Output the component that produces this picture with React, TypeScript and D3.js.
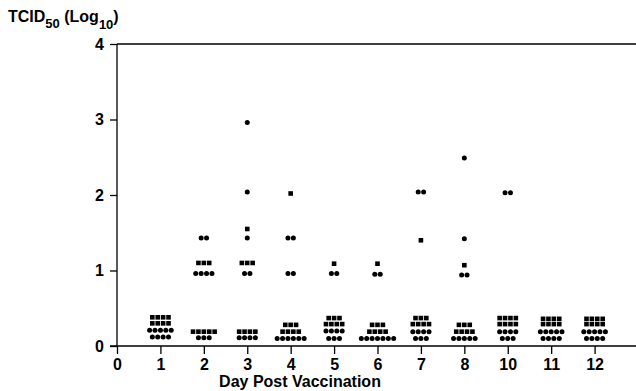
import React, { useEffect, useRef } from 'react';
import * as d3 from 'd3';

// x positions 0..11, day 9 is not on the axis
const tickLabels = ['0', '1', '2', '3', '4', '5', '6', '7', '8', '10', '11', '12'];
const yTicks = [0, 1, 2, 3, 4];

// one entry per day (positions 1..11), values in log10 TCID50
const circleValues: number[][] = [
  [0.21, 0.21, 0.21, 0.21, 0.21, 0.12, 0.12, 0.12, 0.12],
  [1.43, 1.43, 0.96, 0.96, 0.96, 0.96, 0.11, 0.11, 0.11],
  [2.96, 2.04, 1.43, 0.96, 0.96, 0.11, 0.11, 0.11, 0.11],
  [1.43, 1.43, 0.96, 0.96, 0.1, 0.1, 0.1, 0.1, 0.1, 0.1],
  [0.96, 0.96, 0.2, 0.2, 0.2, 0.2, 0.1, 0.1, 0.1],
  [0.95, 0.95, 0.1, 0.1, 0.1, 0.1, 0.1, 0.1, 0.1],
  [2.04, 2.04, 0.19, 0.19, 0.19, 0.19, 0.1, 0.1, 0.1],
  [2.49, 1.42, 0.94, 0.94, 0.1, 0.1, 0.1, 0.1, 0.1],
  [2.03, 2.03, 0.19, 0.19, 0.19, 0.19, 0.1, 0.1, 0.1],
  [0.19, 0.19, 0.19, 0.19, 0.19, 0.1, 0.1, 0.1, 0.1],
  [0.19, 0.19, 0.19, 0.19, 0.19, 0.1, 0.1, 0.1, 0.1],
];

const squareValues: number[][] = [
  [0.38, 0.38, 0.38, 0.38, 0.3, 0.3, 0.3, 0.3],
  [1.1, 1.1, 1.1, 0.19, 0.19, 0.19, 0.19, 0.19],
  [1.55, 1.1, 1.1, 1.1, 0.19, 0.19, 0.19, 0.19],
  [2.02, 0.28, 0.28, 0.28, 0.19, 0.19, 0.19, 0.19],
  [1.09, 0.37, 0.37, 0.37, 0.29, 0.29, 0.29, 0.29],
  [1.09, 0.28, 0.28, 0.28, 0.19, 0.19, 0.19, 0.19],
  [1.4, 0.37, 0.37, 0.37, 0.29, 0.29, 0.29, 0.29],
  [1.07, 0.28, 0.28, 0.28, 0.19, 0.19, 0.19, 0.19],
  [0.37, 0.37, 0.37, 0.37, 0.29, 0.29, 0.29, 0.29],
  [0.36, 0.36, 0.36, 0.36, 0.29, 0.29, 0.29, 0.29],
  [0.36, 0.36, 0.36, 0.36, 0.29, 0.29, 0.29, 0.29],
];

const W = 636;
const H = 391;
const font = '"Liberation Sans", Arial, sans-serif';

// group equal values into rows and spread them sideways
const dodge = (values: number[], pos: number, gap: number) => {
  const rows = d3.group(values, v => v);
  const out: { pos: number; v: number; off: number }[] = [];
  rows.forEach((vs, v) => {
    vs.forEach((_, i) => out.push({ pos, v, off: (i - (vs.length - 1) / 2) * gap }));
  });
  return out;
};

function Chart() {
  const ref = useRef<SVGSVGElement>(null);

  useEffect(() => {
    const svg = d3.select(ref.current);
    svg.selectAll('*').remove();

    const x = d3.scaleLinear().domain([0, 12]).range([117, 638]);
    const y = d3.scaleLinear().domain([0, 4]).range([346, 44]);
    const gap = 5.4;

    // frame lines
    svg.append('line')
      .attr('x1', x(0)).attr('x2', W).attr('y1', y(4)).attr('y2', y(4))
      .attr('stroke', 'black').attr('stroke-width', 1.3);
    svg.append('line')
      .attr('x1', x(0)).attr('x2', x(0)).attr('y1', y(4)).attr('y2', y(0))
      .attr('stroke', 'black').attr('stroke-width', 1.3);
    svg.append('line')
      .attr('x1', x(0) - 7).attr('x2', W).attr('y1', y(0)).attr('y2', y(0))
      .attr('stroke', 'black').attr('stroke-width', 1.3);

    const yAxis = svg.append('g')
      .attr('transform', `translate(${x(0)},0)`)
      .call(d3.axisLeft(y).tickValues(yTicks).tickSize(7).tickPadding(6).tickFormat(d3.format('d')));
    yAxis.select('.domain').remove();

    const xAxis = svg.append('g')
      .attr('transform', `translate(0,${y(0)})`)
      .call(d3.axisBottom(x)
        .tickValues(d3.range(tickLabels.length))
        .tickSize(8)
        .tickPadding(5)
        .tickFormat((d, i) => tickLabels[i]));
    xAxis.select('.domain').remove();

    svg.selectAll('.tick line').attr('stroke', 'black').attr('stroke-width', 1.3);
    svg.selectAll('.tick text')
      .attr('fill', 'black')
      .attr('font-family', font)
      .attr('font-weight', 'bold')
      .attr('font-size', 16);

    const circles = circleValues.flatMap((vals, i) => dodge(vals, i + 1, gap));
    const squares = squareValues.flatMap((vals, i) => dodge(vals, i + 1, gap));

    svg.selectAll('circle.pt')
      .data(circles)
      .enter()
      .append('circle')
      .attr('class', 'pt')
      .attr('cx', d => x(d.pos) + d.off)
      .attr('cy', d => y(d.v))
      .attr('r', 2.5)
      .attr('fill', 'black');

    svg.selectAll('rect.pt')
      .data(squares)
      .enter()
      .append('rect')
      .attr('class', 'pt')
      .attr('x', d => x(d.pos) + d.off - 2.3)
      .attr('y', d => y(d.v) - 2.3)
      .attr('width', 4.6)
      .attr('height', 4.6)
      .attr('fill', 'black');

    svg.append('text')
      .attr('x', 300)
      .attr('y', 387)
      .attr('text-anchor', 'middle')
      .attr('font-family', font)
      .attr('font-weight', 'bold')
      .attr('font-size', 16)
      .attr('fill', 'black')
      .text('Day Post Vaccination');

    const title = svg.append('text')
      .attr('x', 8)
      .attr('y', 22)
      .attr('font-family', font)
      .attr('font-weight', 'bold')
      .attr('font-size', 16)
      .attr('fill', 'black');
    title.append('tspan').text('TCID');
    title.append('tspan').attr('dy', 6).attr('font-size', 13).text('50');
    title.append('tspan').attr('dy', -6).text(' (Log');
    title.append('tspan').attr('dy', 7).attr('font-size', 13).text('10');
    title.append('tspan').attr('dy', -7).text(')');
  }, []);

  return <svg ref={ref} width={W} height={H} style={{ display: 'block' }} />;
}

export default function App() {
  return (
    <div style={{ position: 'absolute', left: 0, top: 0 }}>
      <Chart />
    </div>
  );
}
